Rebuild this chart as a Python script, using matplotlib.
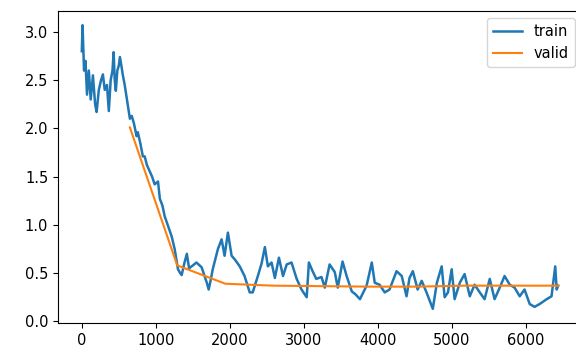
import matplotlib
matplotlib.use("Agg")
import matplotlib.pyplot as plt

# train loss (iteration, loss)
train_iters = [0, 10, 30, 50, 70, 95, 120, 150, 180, 200, 230, 260, 285, 310, 340,
               365, 390, 415, 430, 445, 460, 480, 500, 515, 535, 555, 580, 610, 650,
               675, 705, 740, 757, 790, 825, 850, 880, 920, 950, 985, 1030, 1055, 1090,
               1120, 1165, 1215, 1255, 1300, 1330, 1350, 1385, 1420, 1450, 1485, 1550,
               1620, 1660, 1690, 1715, 1740, 1770, 1840, 1890, 1930, 1975, 2025, 2070,
               2135, 2200, 2270, 2310, 2380, 2430, 2475, 2515, 2565, 2610, 2665, 2720,
               2770, 2835, 2905, 2970, 3040, 3070, 3120, 3170, 3240, 3285, 3350, 3420,
               3460, 3525, 3580, 3650, 3700, 3760, 3850, 3920, 3960, 4025, 4095, 4160,
               4255, 4325, 4390, 4430, 4475, 4540, 4595, 4660, 4745, 4800, 4865, 4905,
               4950, 5000, 5040, 5110, 5175, 5245, 5310, 5380, 5445, 5515, 5580, 5650,
               5715, 5785, 5850, 5920, 5985, 6055, 6120, 6190, 6285, 6350, 6400, 6420,
               6440]
train_loss = [2.8, 3.07, 2.6, 2.7, 2.35, 2.6, 2.3, 2.55, 2.25, 2.17, 2.4, 2.5, 2.56, 2.4, 2.45,
              2.18, 2.5, 2.6, 2.79, 2.5, 2.39, 2.6, 2.65, 2.74, 2.65, 2.55, 2.45, 2.3, 2.1,
              2.13, 2.05, 1.92, 1.96, 1.85, 1.71, 1.71, 1.62, 1.55, 1.5, 1.42, 1.45, 1.27, 1.2,
              1.09, 0.99, 0.88, 0.75, 0.54, 0.5, 0.48, 0.6, 0.7, 0.55, 0.57, 0.61,
              0.56, 0.47, 0.4, 0.33, 0.42, 0.54, 0.75, 0.85, 0.68, 0.92, 0.68, 0.64,
              0.57, 0.47, 0.3, 0.3, 0.47, 0.6, 0.77, 0.57, 0.61, 0.45, 0.66, 0.47,
              0.59, 0.61, 0.44, 0.33, 0.25, 0.61, 0.52, 0.44, 0.46, 0.35, 0.59, 0.51,
              0.35, 0.62, 0.47, 0.31, 0.28, 0.23, 0.37, 0.61, 0.4, 0.38, 0.3, 0.33,
              0.52, 0.47, 0.26, 0.45, 0.52, 0.33, 0.42, 0.3, 0.13, 0.4, 0.57, 0.25,
              0.3, 0.54, 0.23, 0.4, 0.49, 0.26, 0.38, 0.3, 0.23, 0.44, 0.23, 0.35,
              0.47, 0.38, 0.35, 0.26, 0.33, 0.18, 0.15, 0.18, 0.23, 0.26, 0.57, 0.33,
              0.37]

# validation loss, one point per epoch
valid_iters = [650, 1290, 1940, 2590, 3230, 3880, 4530, 5170, 5820, 6440]
valid_loss = [2.01, 0.58, 0.39, 0.37, 0.365, 0.36, 0.36, 0.37, 0.37, 0.37]

plt.rcParams["font.size"] = 10.5

fig = plt.figure(figsize=(5.76, 3.49), dpi=100)
# right part of the axes runs past the image edge, as in the screenshot
ax = fig.add_axes([58 / 576, 26 / 349, 524 / 576, 312 / 349])
ax.plot(train_iters, train_loss, label="train", lw=1.8)
ax.plot(valid_iters, valid_loss, label="valid")
ax.legend(loc="upper right")

fig.savefig("out.png", dpi=100)
